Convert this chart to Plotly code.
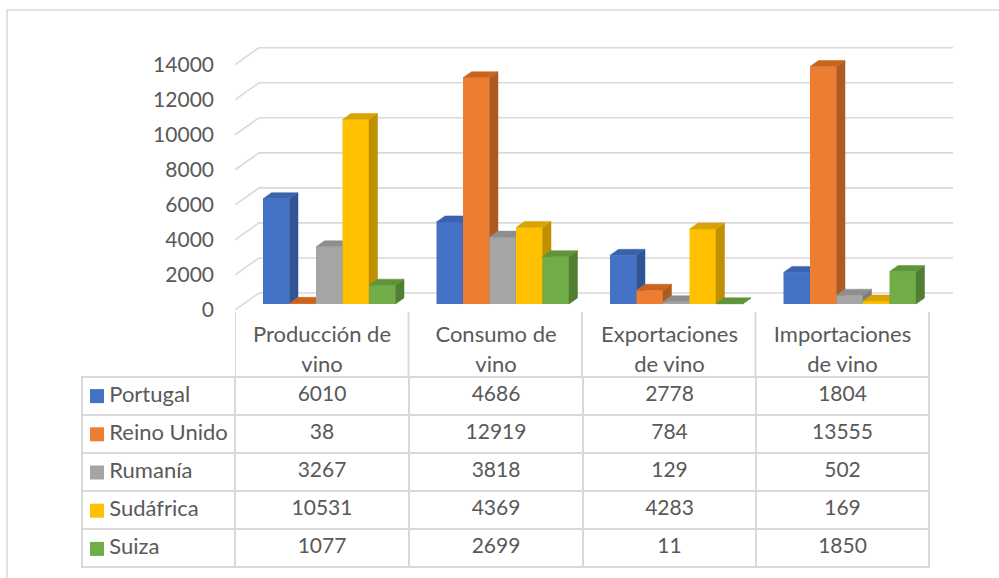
import plotly.graph_objects as go

# ---------------- data ----------------
category_lines = [["Producción de", "vino"], ["Consumo de", "vino"],
                  ["Exportaciones", "de vino"], ["Importaciones", "de vino"]]
series_names = ["Portugal", "Reino\u00a0Unido", "Rumanía", "Sudáfrica", "Suiza"]
portugal = [6010, 4686, 2778, 1804]
reino_unido = [38, 12919, 784, 13555]
rumania = [3267, 3818, 129, 502]
sudafrica = [10531, 4369, 4283, 169]
suiza = [1077, 2699, 11, 1850]
y_ticks = [0, 2000, 4000, 6000, 8000, 10000, 12000, 14000]

series_values = [portugal, reino_unido, rumania, sudafrica, suiza]
front_colors = ["#4472C4", "#ED7D31", "#A5A5A5", "#FFC000", "#70AD47"]
side_colors = ["#2F5597", "#AE5A21", "#7C7C7C", "#BF9000", "#507E32"]
top_colors = ["#3A63AE", "#C9641F", "#8E8E8E", "#D9A300", "#5F9439"]

# ---------------- geometry (pixels) ----------------
W, H = 999, 578
def px(x): return x / W
def py(y): return 1 - y / H

CAT_PX = 173.5          # width of one category column
AX_LEFT, AX_RIGHT = 235, 960
PLOT_TOP, PLOT_BOTTOM = 30, 310
PX_PER_UNIT = 0.01752   # pixels per value unit
BAR_ZERO = 304          # pixel row of the bars' front baseline
BAR_W_PX, BAR_START_PX = 26.5, 28
DEPTH_X_PX, DEPTH_Y_PX = 8.5, 6
WALL_X_PX, WALL_Y_PX = 24, 17
WALL_RIGHT = 953
TABLE_LEFT, TABLE_RIGHT = 82, 929
HEADER_TOP, ROWS_TOP, ROWS_BOTTOM = 317, 377, 568

x_range = [-0.5, -0.5 + (AX_RIGHT - AX_LEFT) / CAT_PX]
label_range = [0, (PLOT_BOTTOM - PLOT_TOP) / PX_PER_UNIT]
bar_shift = (PLOT_BOTTOM - BAR_ZERO) / PX_PER_UNIT
bar_range = [label_range[0] - bar_shift, label_range[1] - bar_shift]

bw = BAR_W_PX / CAT_PX
ddx = DEPTH_X_PX / CAT_PX
ddy = DEPTH_Y_PX / PX_PER_UNIT

GRID = "#D9D9D9"
TXT = "#595959"
FONT = "Lato, 'Open Sans', sans-serif"
FS = 21
FS_LABEL = 22

fig = go.Figure()

# back wall gridlines (main subplot, label axis)
gx, gy = [], []
wdx = WALL_X_PX / CAT_PX
wdy = WALL_Y_PX / PX_PER_UNIT
xr_wall = -0.5 + (WALL_RIGHT - AX_LEFT) / CAT_PX
for t in y_ticks:
    gx += [-0.5, -0.5 + wdx, xr_wall, None]
    gy += [t, t + wdy, t + wdy, None]
fig.add_trace(go.Scatter(x=gx, y=gy, mode="lines", line=dict(color=GRID, width=1.6),
                         hoverinfo="skip", showlegend=False, xaxis="x", yaxis="y"))

# 3D bars, one overlaid subplot per series (painter's order left to right)
for s, vals in enumerate(series_values):
    yax = "y%d" % (s + 2)
    xl = [-0.5 + c + (BAR_START_PX + BAR_W_PX * s) / CAT_PX for c in range(len(vals))]
    xc = [x + bw / 2 for x in xl]
    fig.add_trace(go.Bar(x=xc, y=vals, width=bw, base=0, name=series_names[s],
                         marker=dict(color=front_colors[s], line=dict(width=0)),
                         showlegend=False, xaxis="x", yaxis=yax))
    sx, sy, tx, ty = [], [], [], []
    for x0, v in zip(xl, vals):
        x1 = x0 + bw
        sx += [x1, x1, x1 + ddx, x1 + ddx, x1, None]
        sy += [0, v, v + ddy, ddy, 0, None]
        tx += [x0, x1, x1 + ddx, x0 + ddx, x0, None]
        ty += [v, v, v + ddy, v + ddy, v, None]
    fig.add_trace(go.Scatter(x=sx, y=sy, mode="lines", fill="toself",
                             fillcolor=side_colors[s], line=dict(color=side_colors[s], width=0.5),
                             hoverinfo="skip", showlegend=False, xaxis="x", yaxis=yax))
    fig.add_trace(go.Scatter(x=tx, y=ty, mode="lines", fill="toself",
                             fillcolor=top_colors[s], line=dict(color=top_colors[s], width=0.5),
                             hoverinfo="skip", showlegend=False, xaxis="x", yaxis=yax))

# legend keys of the data table
key_axis = "y%d" % (len(series_values) + 2)
fig.add_trace(go.Scatter(x=[0.5] * len(series_names), y=list(range(len(series_names))),
                         mode="markers",
                         marker=dict(symbol="square", size=14, color=front_colors,
                                     line=dict(width=0)),
                         hoverinfo="skip", showlegend=False, xaxis="x2", yaxis=key_axis))

# data table
cols = [series_names] + [[series_values[s][c] for s in range(len(series_values))]
                         for c in range(len(category_lines))]
fig.add_trace(go.Table(
    domain=dict(x=[px(TABLE_LEFT), px(TABLE_RIGHT)], y=[0, py(HEADER_TOP)]),
    columnwidth=[153, 174, 174, 173, 173],
    header=dict(values=[["", ""]] + category_lines, height=(ROWS_TOP - HEADER_TOP) / 2,
                fill=dict(color="rgba(0,0,0,0)"),
                line=dict(width=0, color="rgba(0,0,0,0)"),
                font=dict(family=FONT, size=FS_LABEL, color=TXT), align="center"),
    cells=dict(values=cols, height=38, fill=dict(color="rgba(0,0,0,0)"),
               line=dict(color=GRID, width=2),
               prefix=["\u2003\u2009", "", "", "", ""],
               font=dict(family=FONT, size=[FS_LABEL, FS, FS, FS, FS], color=TXT),
               align=["left", "center", "center", "center", "center"]),
))

shapes = []
# header column separators
for i in range(len(category_lines) + 1):
    shapes.append(dict(type="line", xref="x", yref="paper", x0=-0.5 + i, x1=-0.5 + i,
                       y0=py(ROWS_TOP), y1=py(312), line=dict(color=GRID, width=2)))
# chart area border
shapes.append(dict(type="rect", xref="paper", yref="paper", x0=px(7), x1=px(1010),
                   y0=py(600), y1=py(10), line=dict(color=GRID, width=1.5), layer="below"))

layout = dict(
    width=W, height=H, autosize=False, margin=dict(l=0, r=0, t=0, b=0, pad=0),
    paper_bgcolor="white", plot_bgcolor="rgba(0,0,0,0)",
    barmode="overlay", showlegend=False,
    font=dict(family=FONT, color=TXT),
    xaxis=dict(domain=[px(AX_LEFT), px(AX_RIGHT)], range=x_range, visible=False,
               fixedrange=True),
    yaxis=dict(domain=[py(PLOT_BOTTOM), py(PLOT_TOP)], range=label_range,
               tickvals=y_ticks, ticktext=[str(t) for t in y_ticks],
               showgrid=False, zeroline=False, showline=False, ticks="",
               ticklabelstandoff=20, tickfont=dict(family=FONT, size=FS, color=TXT),
               automargin=False, fixedrange=True),
    xaxis2=dict(domain=[px(86), px(108)], range=[0, 1], visible=False, fixedrange=True,
                anchor=key_axis),
    shapes=shapes,
)
for s in range(len(series_values)):
    layout["yaxis%d" % (s + 2)] = dict(overlaying="y", range=bar_range, visible=False,
                                       fixedrange=True)
layout["yaxis%d" % (len(series_values) + 2)] = dict(
    domain=[py(ROWS_BOTTOM), py(ROWS_TOP)], range=[len(series_names) - 0.5, -0.5],
    visible=False, fixedrange=True, anchor="x2")
fig.update_layout(**layout)

fig.write_html("out.html",
               config={"displayModeBar": False, "responsive": False},
               post_script="document.body.style.margin='0';")
